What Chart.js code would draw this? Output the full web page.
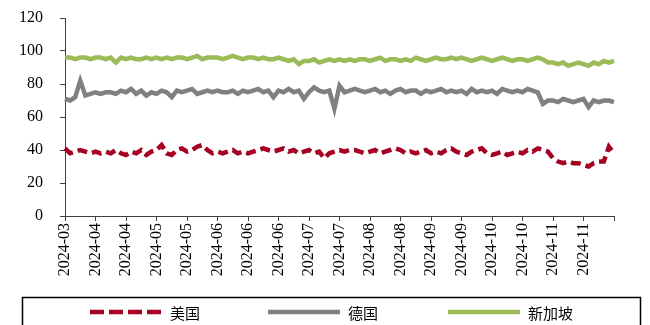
<!DOCTYPE html>
<html>
<head>
<meta charset="utf-8">
<script src="https://cdn.jsdelivr.net/npm/chart.js@4"></script>
<style>
  html, body { margin: 0; padding: 0; background: #fff; }
  #wrap { width: 650px; height: 325px; }
</style>
</head>
<body>
<div id="wrap"><canvas id="chart" width="650" height="325"></canvas></div>
<script>
// Data
const tickLabels = [
    '2024-03', '2024-04', '2024-04', '2024-05', '2024-05', '2024-06',
    '2024-06', '2024-06', '2024-07', '2024-07', '2024-08', '2024-08',
    '2024-09', '2024-09', '2024-10', '2024-10', '2024-11', '2024-11'
];
const pointsPerTick = 6;

const seriesNames = ['美国', '德国', '新加坡'];

const usValues = [
    41, 38, 39, 40, 39, 38,
    39, 38, 39, 38, 40, 38,
    37, 39, 38, 40, 37, 39,
    40, 43, 38, 37, 40, 41,
    39, 40, 42, 43, 40, 38,
    39, 38, 39, 40, 38, 39,
    38, 39, 40, 41, 40, 39,
    40, 41, 39, 40, 38, 39,
    40, 38, 39, 35, 38, 39,
    40, 39, 40, 40, 39, 38,
    39, 40, 38, 39, 40, 41,
    40, 38, 39, 38, 39, 40,
    38, 39, 38, 40, 41, 39,
    38, 37, 39, 40, 41, 38,
    37, 38, 39, 37, 38, 39,
    38, 40, 39, 41, 40, 39,
    35, 33, 32, 33, 32, 32,
    31, 30, 32, 33, 33, 42,
    38
];

const deValues = [
    71, 70, 72, 82, 73, 74,
    75, 74, 75, 75, 74, 76,
    75, 77, 74, 76, 73, 75,
    74, 76, 75, 72, 76, 75,
    76, 77, 74, 75, 76, 75,
    76, 75, 75, 76, 74, 76,
    75, 76, 77, 75, 76, 72,
    76, 75, 77, 75, 76, 71,
    75, 78, 76, 75, 76, 65,
    79, 75, 76, 77, 76, 75,
    76, 77, 75, 76, 74, 76,
    77, 75, 76, 76, 74, 76,
    75, 76, 77, 75, 76, 75,
    76, 74, 77, 75, 76, 75,
    76, 74, 77, 76, 75, 76,
    75, 77, 76, 75, 68, 70,
    70, 69, 71, 70, 69, 70,
    71, 66, 70, 69, 70, 70,
    69
];

const sgValues = [
    96, 96, 95, 96, 96, 95,
    96, 96, 95, 96, 93, 96,
    95, 96, 95, 95, 96, 95,
    96, 95, 96, 95, 96, 96,
    95, 96, 97, 95, 96, 96,
    96, 95, 96, 97, 96, 95,
    96, 96, 95, 96, 95, 95,
    96, 95, 94, 95, 92, 94,
    94, 95, 93, 94, 95, 94,
    95, 94, 95, 94, 95, 95,
    94, 95, 96, 94, 95, 95,
    94, 95, 94, 96, 95, 94,
    95, 96, 95, 95, 96, 95,
    96, 95, 94, 95, 96, 95,
    94, 95, 96, 95, 94, 95,
    95, 94, 95, 96, 95, 93,
    93, 92, 93, 91, 92, 93,
    92, 91, 93, 92, 94, 93,
    94
];

const yTicks = { min: 0, max: 120, step: 20 };

// one category per point, named after the tick it sits under
const categories = usValues.map((v, i) => tickLabels[Math.floor(i / pointsPerTick)] || '');

const axisColor = '#404040';
const serif = "'Liberation Serif', 'DejaVu Serif', serif";
const cjk = "'Noto Sans CJK SC', sans-serif";

// framed legend along the bottom, built from the datasets
const boxLegend = {
    id: 'boxLegend',
    afterDraw(chart) {
        const c = chart.ctx;
        const top = 297;
        const midY = 312;
        const starts = [90, 268, 448];
        const lineLen = 72;
        c.save();
        c.strokeStyle = '#000';
        c.lineWidth = 1.5;
        c.strokeRect(22.5, top + 0.5, 618, 40);
        chart.data.datasets.forEach((ds, i) => {
            const x = starts[i];
            c.beginPath();
            c.strokeStyle = ds.borderColor;
            c.lineWidth = ds.borderWidth;
            c.setLineDash(ds.borderDash ? [14, 5] : []);
            c.moveTo(x, midY);
            c.lineTo(x + lineLen, midY);
            c.stroke();
            c.setLineDash([]);
            c.fillStyle = '#000';
            c.font = '15px ' + cjk;
            c.textBaseline = 'middle';
            c.fillText(ds.label, x + lineLen + 8, midY + 1);
        });
        c.restore();
    }
};

const ctx = document.getElementById('chart').getContext('2d');
const chart = new Chart(ctx, {
    type: 'line',
    data: {
        labels: categories,
        datasets: [
            {
                label: seriesNames[0],
                data: usValues,
                borderColor: '#A50021',
                backgroundColor: '#A50021',
                borderWidth: 4.5,
                borderDash: [10, 5],
                pointRadius: 0,
                tension: 0
            },
            {
                label: seriesNames[1],
                data: deValues,
                borderColor: '#808080',
                backgroundColor: '#808080',
                borderWidth: 4.5,
                pointRadius: 0,
                tension: 0
            },
            {
                label: seriesNames[2],
                data: sgValues,
                borderColor: '#9BBB59',
                backgroundColor: '#9BBB59',
                borderWidth: 4.5,
                pointRadius: 0,
                tension: 0
            }
        ]
    },
    options: {
        responsive: false,
        animation: false,
        layout: { padding: { left: 0, right: 36, top: 18, bottom: 28 } },
        plugins: {
            tooltip: { enabled: false },
            legend: { display: false }
        },
        scales: {
            x: {
                offset: false,
                border: { color: axisColor, width: 1 },
                grid: {
                    drawOnChartArea: false,
                    drawTicks: true,
                    tickLength: 5,
                    color: c => (c.index % pointsPerTick === 0) ? axisColor : 'rgba(0,0,0,0)'
                },
                ticks: {
                    autoSkip: false,
                    maxRotation: 90,
                    minRotation: 90,
                    padding: 2,
                    color: '#000',
                    font: { family: serif, size: 16 },
                    callback: function (val, i) {
                        return (i % pointsPerTick === 0) ? categories[i] : '';
                    }
                },
                afterFit: s => { s.height = 81; s.paddingLeft = 0; s.paddingRight = 0; }
            },
            y: {
                min: yTicks.min,
                max: yTicks.max,
                border: { color: axisColor, width: 1 },
                grid: { drawOnChartArea: false, drawTicks: true, tickLength: 5, color: axisColor },
                ticks: {
                    stepSize: yTicks.step,
                    padding: 17,
                    color: '#000',
                    font: { family: serif, size: 16 }
                },
                afterFit: s => { s.width = 65; s.paddingTop = 0; s.paddingBottom = 0; }
            }
        }
    },
    plugins: [boxLegend]
});
</script>
</body>
</html>
